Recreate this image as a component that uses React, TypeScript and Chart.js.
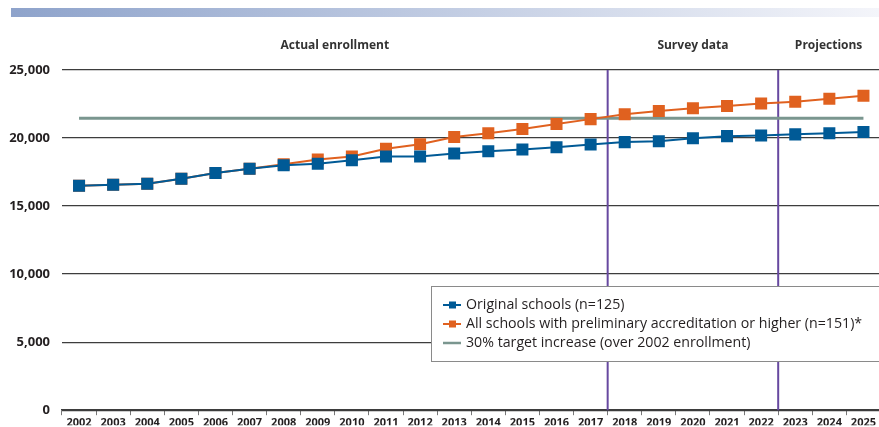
import { useEffect, useRef } from 'react';
import { Chart, registerables } from 'chart.js';

Chart.register(...registerables);

const years = ['2002', '2003', '2004', '2005', '2006', '2007', '2008', '2009', '2010', '2011', '2012', '2013', '2014', '2015', '2016', '2017', '2018', '2019', '2020', '2021', '2022', '2023', '2024', '2025'];
const originalSchools = [16500, 16570, 16640, 17010, 17430, 17750, 18000, 18110, 18360, 18650, 18650, 18860, 19030, 19160, 19330, 19530, 19700, 19770, 19990, 20140, 20190, 20270, 20360, 20440];
const allSchools = [16500, 16570, 16640, 17010, 17430, 17750, 18070, 18430, 18650, 19220, 19540, 20070, 20360, 20660, 21030, 21390, 21750, 21990, 22190, 22360, 22540, 22660, 22880, 23100];
const targetIncrease = [21450, 21450, 21450, 21450, 21450, 21450, 21450, 21450, 21450, 21450, 21450, 21450, 21450, 21450, 21450, 21450, 21450, 21450, 21450, 21450, 21450, 21450, 21450, 21450];
const seriesLabels = ['Original schools (n=125)', 'All schools with preliminary accreditation or higher (n=151)*', '30% target increase (over 2002 enrollment)'];
const sectionLabels = ['Actual enrollment', 'Survey data', 'Projections'];
const sectionEnds = ['2017', '2022', '2025'];
const yMin = 0;
const yMax = 25000;
const yStep = 5000;

const BLUE = '#005a96';
const ORANGE = '#e0611f';
const TARGET = '#7a968f';
const PURPLE = '#6749a0';
const TEXT = '#333333';
const FONT = '"Open Sans", "DejaVu Sans", sans-serif';
const VIEW_W = 879;
const VIEW_H = 427;
const CANVAS_W = 889;
const CANVAS_H = 430;

const decorPlugin = {
  id: 'decor',
  beforeDraw(chart: any) {
    const ctx = chart.ctx;
    ctx.save();
    const g = ctx.createLinearGradient(11, 0, VIEW_W, 0);
    g.addColorStop(0, '#8ea3cb');
    g.addColorStop(1, '#f4f5fa');
    ctx.fillStyle = g;
    ctx.fillRect(11, 8, VIEW_W - 11, 9);

    const xs = chart.scales.x;
    const half = (xs.getPixelForValue(1) - xs.getPixelForValue(0)) / 2;
    let start = chart.chartArea.left;
    ctx.font = `bold 12px ${FONT}`;
    ctx.fillStyle = TEXT;
    ctx.textAlign = 'center';
    ctx.textBaseline = 'middle';
    sectionLabels.forEach((lab, i) => {
      const idx = years.indexOf(sectionEnds[i]);
      const end = Math.min(xs.getPixelForValue(idx) + half, VIEW_W);
      ctx.fillText(lab, (start + end) / 2, 46);
      start = end;
    });
    ctx.restore();
  },
  beforeDatasetsDraw(chart: any) {
    const ctx = chart.ctx;
    const xs = chart.scales.x;
    const half = (xs.getPixelForValue(1) - xs.getPixelForValue(0)) / 2;
    ctx.save();
    ctx.strokeStyle = PURPLE;
    ctx.lineWidth = 2;
    sectionEnds.slice(0, 2).forEach((y) => {
      const x = xs.getPixelForValue(years.indexOf(y)) + half;
      ctx.beginPath();
      ctx.moveTo(x, chart.chartArea.top);
      ctx.lineTo(x, chart.chartArea.bottom);
      ctx.stroke();
    });
    ctx.restore();
  },
  afterDatasetsDraw(chart: any) {
    const ctx = chart.ctx;
    ctx.save();
    const bx = 431.5, by = 286.5, bw = 470, bh = 75;
    ctx.fillStyle = '#ffffff';
    ctx.fillRect(bx, by, bw, bh);
    ctx.strokeStyle = '#8a8a8a';
    ctx.lineWidth = 1;
    ctx.strokeRect(bx, by, bw, bh);
    const colors = [BLUE, ORANGE, TARGET];
    const rows = [305, 324, 343];
    ctx.font = `14.2px ${FONT}`;
    ctx.textAlign = 'left';
    ctx.textBaseline = 'middle';
    seriesLabels.forEach((lab, i) => {
      const y = rows[i];
      ctx.strokeStyle = colors[i];
      ctx.lineWidth = i === 2 ? 2.5 : 2;
      ctx.beginPath();
      ctx.moveTo(443, y);
      ctx.lineTo(461, y);
      ctx.stroke();
      if (i < 2) {
        ctx.fillStyle = colors[i];
        ctx.fillRect(449, y - 3.5, 7, 7);
      }
      ctx.fillStyle = '#231f20';
      ctx.fillText(lab, 466, y);
    });
    ctx.restore();
  },
};

export default function App() {
  const ref = useRef<HTMLCanvasElement | null>(null);
  useEffect(() => {
    if (!ref.current) return;
    const chart = new Chart(ref.current, {
      type: 'line',
      data: {
        labels: years,
        datasets: [
          {
            label: seriesLabels[0],
            data: originalSchools,
            borderColor: BLUE,
            backgroundColor: BLUE,
            borderWidth: 2,
            pointStyle: 'rect',
            pointRadius: 8.5,
            pointBorderWidth: 0,
            tension: 0,
          },
          {
            label: seriesLabels[1],
            data: allSchools,
            borderColor: ORANGE,
            backgroundColor: ORANGE,
            borderWidth: 2,
            pointStyle: 'rect',
            pointRadius: 8.5,
            pointBorderWidth: 0,
            tension: 0,
          },
          {
            label: seriesLabels[2],
            data: targetIncrease,
            borderColor: TARGET,
            backgroundColor: TARGET,
            borderWidth: 3,
            pointRadius: 0,
            tension: 0,
          },
        ],
      },
      options: {
        responsive: false,
        animation: false,
        events: [],
        layout: { padding: { top: 70, right: 0, left: 0, bottom: 0 } },
        plugins: { legend: { display: false }, tooltip: { enabled: false } },
        scales: {
          x: {
            offset: true,
            grid: {
              offset: true,
              drawOnChartArea: false,
              drawTicks: true,
              tickLength: 5,
              color: '#777777',
              lineWidth: 1,
            },
            border: { display: true, color: '#3d3d3d', width: 1.5 },
            ticks: {
              autoSkip: false,
              maxRotation: 0,
              padding: 1,
              color: '#231f20',
              font: { family: FONT, size: 11, weight: 'bold' },
            },
            afterFit(scale: any) {
              scale.height = 15;
            },
          },
          y: {
            min: yMin,
            max: yMax,
            grid: { drawTicks: false, color: '#3d3d3d', lineWidth: 1.3 },
            border: { display: false },
            ticks: {
              stepSize: yStep,
              padding: 12,
              color: '#231f20',
              font: { family: FONT, size: 13, weight: 'bold' },
              callback: (v: any) => Number(v).toLocaleString('en-US'),
            },
            afterFit(scale: any) {
              scale.width = 62;
            },
          },
        },
      },
      plugins: [decorPlugin],
    } as any);
    return () => chart.destroy();
  }, []);
  return (
    <div style={{ position: 'fixed', left: 0, top: 0, width: VIEW_W, height: VIEW_H, overflow: 'hidden', background: '#ffffff' }}>
      <canvas ref={ref} width={CANVAS_W} height={CANVAS_H} style={{ width: CANVAS_W, height: CANVAS_H, display: 'block' }} />
    </div>
  );
}
